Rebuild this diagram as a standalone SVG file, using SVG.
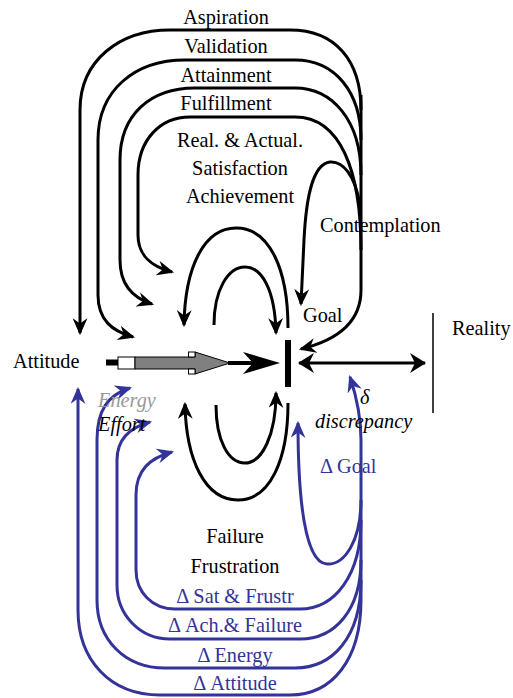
<svg xmlns="http://www.w3.org/2000/svg" width="513" height="698" viewBox="0 0 513 698">
<style>
text{font-family:'Liberation Serif','Times New Roman','DejaVu Serif',serif;font-size:20.3px;fill:#000}
.b{fill:#333399}
.it{font-style:italic}
.c{text-anchor:middle}
.k{fill:none;stroke:#000;stroke-width:3}
.u{fill:none;stroke:#333399;stroke-width:3}
</style>
<defs>
<marker id="ak" viewBox="0 0 16 14" refX="14" refY="7" markerWidth="17" markerHeight="15" markerUnits="userSpaceOnUse" orient="auto">
<path d="M0,0 L16,7 L0,14 L5,7 Z" fill="#000"/>
</marker>
<marker id="au" viewBox="0 0 16 14" refX="14" refY="7" markerWidth="17" markerHeight="15" markerUnits="userSpaceOnUse" orient="auto">
<path d="M0,0 L16,7 L0,14 L5,7 Z" fill="#333399"/>
</marker>
<marker id="ad" viewBox="0 0 16 20" refX="15" refY="10" markerWidth="16" markerHeight="20" markerUnits="userSpaceOnUse" orient="auto-start-reverse">
<path d="M0,0 L16,10 L0,20 L5,10 Z" fill="#000"/>
</marker>
</defs>
<g id="connectors">
<path class="k" d="M361,95 L361,290 C361,322 338,340 301,349" marker-end="url(#ak)"/>
<path class="k" d="M361,110 C361,60 335,30 290,30 L170,30 C120,30 80,60 80,110 L80,333" marker-end="url(#ak)"/>
<path class="k" d="M361,140 C361,92 335,60 295,60 L185,60 C135,60 98,90 98,140 L98,295 C98,320 112,331 133,337" marker-end="url(#ak)"/>
<path class="k" d="M361,175 C361,120 332,88 295,88 L195,88 C150,88 120,115 120,160 L120,260 C120,285 133,298 152,304" marker-end="url(#ak)"/>
<path class="k" d="M361,250 C361,170 340,117 295,117 L190,117 C160,117 138,140 138,175 L138,235 C138,255 150,266 172,272" marker-end="url(#ak)"/>
<path class="k" d="M360,205 C355,175 343,161 330,162 C312,164 306,200 304,240 L301,304" marker-end="url(#ak)"/>
<path class="k" d="M288,328 C288,270 270,228 236,228 C205,228 185,265 184,325" marker-end="url(#ak)"/>
<path class="k" d="M214,325 C214,290 228,267 245,267 C262,267 275,290 276,333" marker-end="url(#ak)"/>
<path class="k" d="M288,403 C288,460 270,500 238,500 C205,500 186,460 185,404" marker-end="url(#ak)"/>
<path class="k" d="M216,405 C216,440 228,463 245,463 C262,463 276,435 276,393" marker-end="url(#ak)"/>
<path d="M299,363 L425,363" stroke="#000" stroke-width="3" fill="none" marker-start="url(#ad)" marker-end="url(#ad)"/>
<line x1="433" y1="313" x2="433" y2="413" stroke="#000" stroke-width="1.5"/>
<path class="u" d="M361,600 C361,660 332,695 290,695 L160,695 C110,695 78,660 78,610 L78,389" marker-end="url(#au)"/>
<path class="u" d="M361,580 C361,638 332,668 295,668 L165,668 C125,668 97,640 97,600 L97,440 C97,410 108,395 130,388" marker-end="url(#au)"/>
<path class="u" d="M361,560 C361,610 335,639 300,639 L170,639 C140,639 117,615 117,585 L117,460 C117,440 128,428 150,422" marker-end="url(#au)"/>
<path class="u" d="M361,520 C361,575 335,609 300,609 L175,609 C152,609 136,592 136,570 L136,495 C136,470 150,458 172,452" marker-end="url(#au)"/>
<path class="u" d="M361,600 L361,440 C361,415 356,395 350,377" marker-end="url(#au)"/>
<path class="u" d="M361,500 C361,540 345,565 327,564 C305,563 298,500 298,423" marker-end="url(#au)"/>
</g>
<g id="main-arrow">
<rect x="106" y="359.5" width="12" height="6" fill="#000"/>
<rect x="118" y="357" width="17" height="12" fill="#fff" stroke="#000" stroke-width="1"/>
<polygon points="135,357 195,357 195,352 230,363 195,374 195,369 135,369" fill="#808080" stroke="#000" stroke-width="1"/>
<rect x="188.5" y="352" width="6.5" height="5" fill="#fff" stroke="#000" stroke-width="1"/>
<rect x="188.5" y="369" width="6.5" height="5" fill="#fff" stroke="#000" stroke-width="1"/>
<line x1="228" y1="363" x2="260" y2="363" stroke="#000" stroke-width="4"/>
<polygon points="243,352 280,363 243,374 253,363" fill="#000"/>
</g>
<g id="bar"><rect x="285" y="340" width="6" height="47" fill="#000"/></g>
<g id="labels-top">
<text class="c" x="226" y="24">Aspiration</text>
<text class="c" x="226" y="53">Validation</text>
<text class="c" x="226" y="82">Attainment</text>
<text class="c" x="226" y="110">Fulfillment</text>
<text class="c" x="240" y="147">Real. &amp; Actual.</text>
<text class="c" x="240" y="175">Satisfaction</text>
<text class="c" x="240" y="203">Achievement</text>
<text x="320" y="232">Contemplation</text>
<text x="303" y="322">Goal</text>
</g>
<g id="labels-middle">
<text x="452" y="335">Reality</text>
<text x="13" y="368">Attitude</text>
<text class="it" x="98" y="407" style="fill:#999">Energy</text>
<text class="it" x="98" y="431">Effort</text>
<text class="it" x="360" y="404">δ</text>
<text class="it" x="315" y="428">discrepancy</text>
<text class="b" x="320" y="473">Δ Goal</text>
</g>
<g id="labels-bottom">
<text class="c" x="235" y="543">Failure</text>
<text class="c" x="235" y="573">Frustration</text>
<text class="c b" x="235" y="603">Δ Sat &amp; Frustr</text>
<text class="c b" x="235" y="632">Δ Ach.&amp; Failure</text>
<text class="c b" x="235" y="662">Δ Energy</text>
<text class="c b" x="235" y="690">Δ Attitude</text>
</g>
</svg>
